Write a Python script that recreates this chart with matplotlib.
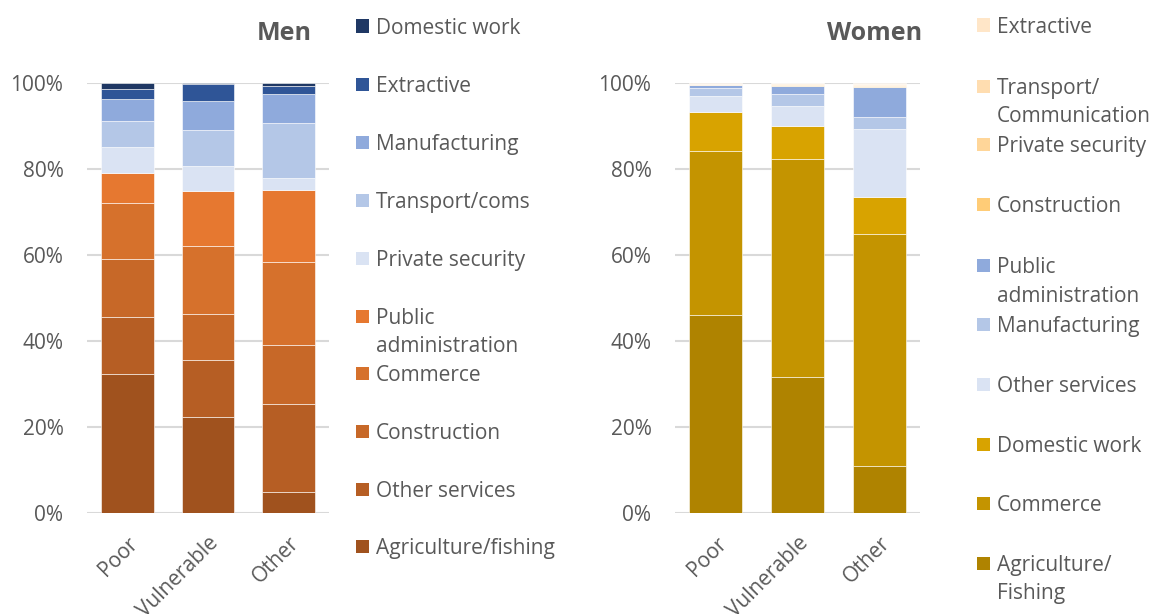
import matplotlib
matplotlib.use("Agg")
import matplotlib.pyplot as plt
from matplotlib.patches import Rectangle
import numpy as np

plt.rcParams['font.family'] = ['Open Sans', 'DejaVu Sans']

groups = ["Poor", "Vulnerable", "Other"]
y_ticks = [0, 20, 40, 60, 80, 100]

# Men: stacked bottom -> top
men_series = ["Agriculture/fishing", "Other services", "Construction", "Commerce",
              "Public\nadministration", "Private security", "Transport/coms",
              "Manufacturing", "Extractive", "Domestic work"]
men_agri = [32.4, 22.3, 4.9]
men_other_serv = [13.3, 13.2, 20.4]
men_construction = [13.4, 10.7, 13.9]
men_commerce = [12.9, 15.8, 19.1]
men_public = [7.0, 12.9, 16.8]
men_security = [6.1, 5.8, 2.8]
men_transport = [5.9, 8.3, 12.7]
men_manuf = [5.2, 6.8, 6.8]
men_extractive = [2.3, 3.8, 1.8]
men_domestic = [1.5, 0.4, 0.8]
men_values = [men_agri, men_other_serv, men_construction, men_commerce, men_public,
              men_security, men_transport, men_manuf, men_extractive, men_domestic]
men_colors = ["#A0521E", "#B65E24", "#C76828", "#D6712C", "#E67830",
              "#DAE3F3", "#B4C7E7", "#8FAADC", "#2F5597", "#1F3864"]

# Women: stacked bottom -> top
women_series = ["Agriculture/\nFishing", "Commerce", "Domestic work", "Other services",
                "Manufacturing", "Public\nadministration", "Construction",
                "Private security", "Transport/\nCommunication", "Extractive"]
women_agri = [46.0, 31.6, 11.1]
women_commerce = [38.1, 50.6, 53.7]
women_domestic = [9.1, 7.8, 8.7]
women_other_serv = [3.8, 4.7, 15.7]
women_manuf = [1.8, 2.7, 2.8]
women_public = [0.6, 1.9, 7.1]
women_construction = [0.1, 0.2, 0.1]
women_security = [0.2, 0.3, 0.2]
women_transport = [0.1, 0.1, 0.2]
women_extractive = [0.2, 0.1, 0.4]
women_values = [women_agri, women_commerce, women_domestic, women_other_serv, women_manuf,
                women_public, women_construction, women_security, women_transport,
                women_extractive]
women_colors = ["#AF8300", "#C49400", "#D8A300", "#DAE3F3", "#B4C7E7", "#8FAADC",
                "#FFCC77", "#FFD699", "#FFDDB0", "#FFE6C8"]

W, H = 1153, 614
fig = plt.figure(figsize=(W / 100, H / 100), dpi=100)
TXT = "#595959"
GRID = "#D9D9D9"


def fx(px):
    return px / W


def fy(py):
    return 1 - py / H


def draw(ax, series_vals, colors, title, title_x):
    x = np.arange(len(groups))
    bottom = np.zeros(len(groups))
    for vals, c in zip(series_vals, colors):
        ax.bar(x, vals, bottom=bottom, width=0.65, color=c, edgecolor="white",
               linewidth=0.4, zorder=3)
        bottom += np.array(vals)
    ax.set_xlim(-0.5, 2.5)
    ax.set_ylim(0, 100)
    ax.set_yticks(y_ticks)
    ax.set_yticklabels([f"{t}%" for t in y_ticks], fontsize=15, color=TXT)
    ax.set_xticks(x)
    ax.set_xticklabels(groups, rotation=45, ha="right", va="top", rotation_mode="anchor",
                       fontsize=15, color=TXT)
    ax.tick_params(axis="both", length=0)
    ax.tick_params(axis="y", pad=17)
    ax.tick_params(axis="x", pad=14)
    for s in ax.spines.values():
        s.set_visible(False)
    ax.yaxis.grid(True, color=GRID, linewidth=1.5, zorder=0)
    ax.set_axisbelow(True)
    fig.text(fx(title_x), fy(34), title, ha="right", va="center", fontsize=18,
             fontweight="bold", color=TXT)


def legend(labels, colors, sq_x, ys):
    for lab, c, y in zip(labels, colors, ys):
        fig.patches.append(Rectangle((fx(sq_x), fy(y + 6.5)), fx(13), 13 / H,
                                     transform=fig.transFigure, facecolor=c,
                                     edgecolor="none"))
        for i, line in enumerate(lab.split("\n")):
            fig.text(fx(sq_x + 20), fy(y + 28.5 * i), line, ha="left",
                     va="center_baseline", fontsize=15, color=TXT)


ax1 = fig.add_axes([fx(87), fy(513.3), fx(329 - 87), (513.3 - 82.7) / H])
draw(ax1, men_values, men_colors, "Men", 312)
ax2 = fig.add_axes([fx(675), fy(513.3), fx(920 - 675), (513.3 - 82.7) / H])
draw(ax2, women_values, women_colors, "Women", 922)

men_ys = [26, 84, 142, 200, 258, 316, 373, 431, 489, 546]
legend(men_series[::-1], men_colors[::-1], 356, men_ys)
women_ys = [25, 86, 144, 204, 265, 324, 384, 444, 503, 563]
legend(women_series[::-1], women_colors[::-1], 977, women_ys)

fig.savefig("out.png", dpi=100, facecolor="white")
